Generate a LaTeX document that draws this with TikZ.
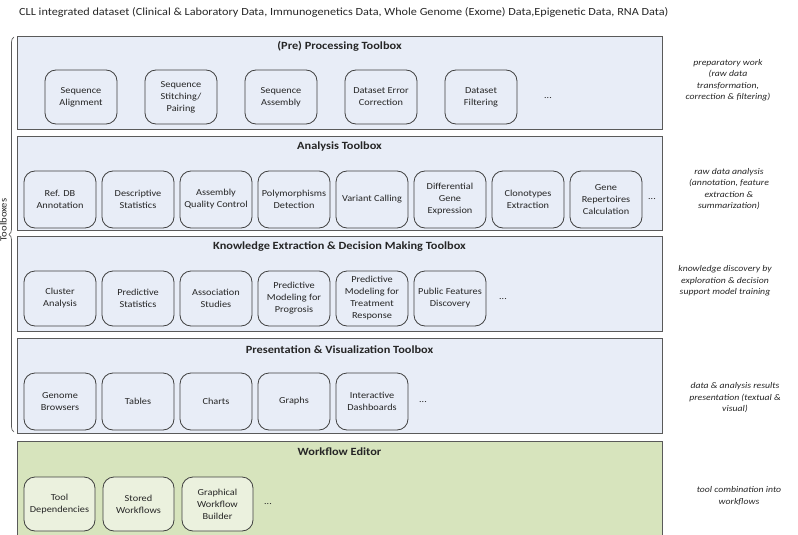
\documentclass[tikz,border=0pt]{standalone}
\usepackage{fontspec}
\setmainfont{Carlito}[FakeStretch=1.12]
\usetikzlibrary{decorations.pathreplacing}
\definecolor{panelblue}{HTML}{E8EDF7}
\definecolor{panelgreen}{HTML}{D7E4BD}
\definecolor{toolgreen}{HTML}{EBF1DE}
\definecolor{framegray}{HTML}{5A5A5A}
\definecolor{textgray}{HTML}{262626}
\tikzset{
	panel/.style={draw=framegray, line width=1.3pt, fill=panelblue, anchor=north west,
		minimum width=645pt, inner sep=0pt},
	paneltitle/.style={font=\fontsize{11}{13}\selectfont\bfseries, text=textgray},
	tool/.style={draw=black!75, line width=0.8pt, rounded corners=11pt, align=center,
		minimum width=72pt, inner sep=1pt, text=textgray,
		font=\fontsize{9.2}{12}\selectfont},
	dots/.style={font=\fontsize{9}{11}\selectfont, text=textgray},
	sidenote/.style={align=center, text=textgray, font=\fontsize{8.7}{11.5}\selectfont\itshape}
}
\begin{document}
\begin{tikzpicture}[x=1pt,y=-1pt]
	\useasboundingbox (0,0) rectangle (798,535);
	% data heading
	\node[anchor=west, inner sep=0pt, text=textgray, font=\fontsize{10.9}{13}\selectfont] (dataset) at (19,12)
		{CLL integrated dataset (Clinical \& Laboratory Data, Immunogenetics Data, Whole Genome (Exome) Data,Epigenetic Data, RNA Data)};
	% toolbox panels
	\node[panel, minimum height=93pt] (prep) at (17,36) {};
	\node[panel, minimum height=94pt] (analysis) at (17,136) {};
	\node[panel, minimum height=95pt] (knowledge) at (17,236) {};
	\node[panel, minimum height=95pt] (present) at (17,338) {};
	\node[panel, fill=panelgreen, minimum height=110pt] (workflow) at (17,441) {};
	\node[paneltitle] (preptitle) at (339.5,46) {(Pre) Processing Toolbox};
	\node[paneltitle] (analysistitle) at (339.5,147) {Analysis Toolbox};
	\node[paneltitle] (knowledgetitle) at (339.5,247) {Knowledge Extraction \& Decision Making Toolbox};
	\node[paneltitle] (presenttitle) at (339.5,350) {Presentation \& Visualization Toolbox};
	\node[paneltitle] (workflowtitle) at (339.5,452) {Workflow Editor};
	% (pre) processing tools
	\foreach \nm/\txt [count=\i from 0] in {seqalign/{Sequence\\Alignment}, seqstitch/{Sequence\\Stitching/\\Pairing},
		seqassembly/{Sequence\\Assembly}, errcorr/{Dataset Error\\Correction}, filtering/{Dataset\\Filtering}}
	\node[tool, minimum height=54pt] (\nm) at ({81+100*\i},97) {\txt};
	\node[dots] (prepdots) at (548,98) {...};
	% analysis tools
	\foreach \nm/\txt [count=\i from 0] in {refdb/{Ref. DB\\Annotation}, descstat/{Descriptive\\Statistics},
		assemblyqc/{Assembly\\Quality Control}, polymorph/{Polymorphisms\\Detection}, varcall/{Variant Calling},
		diffexpr/{Differential\\Gene\\Expression}, clonotypes/{Clonotypes\\Extraction}, generep/{Gene\\Repertoires\\Calculation}}
	\node[tool, minimum height=57pt] (\nm) at ({60+78*\i},199.5) {\txt};
	\node[dots] (analysisdots) at (652,199) {...};
	% knowledge extraction tools
	\foreach \nm/\txt [count=\i from 0] in {cluster/{Cluster\\Analysis}, predstat/{Predictive\\Statistics},
		association/{Association\\Studies}, prognosis/{Predictive\\Modeling for\\Progrosis},
		treatment/{Predictive\\Modeling for\\Treatment\\Response}, publicfeat/{Public Features\\Discovery}}
	\node[tool, minimum height=55pt] (\nm) at ({60+78*\i},298.5) {\txt};
	\node[dots] (knowledgedots) at (503,299) {...};
	% presentation tools
	\foreach \nm/\txt [count=\i from 0] in {browsers/{Genome\\Browsers}, tables/{Tables}, charts/{Charts},
		graphs/{Graphs}, dashboards/{Interactive\\Dashboards}}
	\node[tool, minimum height=57pt] (\nm) at ({60+78*\i},401.5) {\txt};
	\node[dots] (presentdots) at (423,402) {...};
	% workflow editor tools
	\foreach \nm/\txt [count=\i from 0] in {tooldeps/{Tool\\Dependencies}, stored/{Stored\\Workflows},
		builder/{Graphical\\Workflow\\Builder}}
	\node[tool, fill=toolgreen, minimum width=71pt, minimum height=54pt] (\nm) at ({59.5+79*\i},504) {\txt};
	\node[dots] (workflowdots) at (268,504) {...};
	% toolboxes brace
	\coordinate (bracelow) at (14,432);
	\coordinate (bracehigh) at (14,37);
	\draw[framegray, line width=0.7pt, decorate, decoration={brace, amplitude=5pt}] (bracelow) -- (bracehigh);
	\node[rotate=90, anchor=base, inner sep=0pt, text=textgray, font=\fontsize{9.5}{11}\selectfont] (toolboxes) at (6.5,220) {Toolboxes};
	% side notes
	\node[sidenote] (prepnote) at (728,80) {preparatory work\\(raw data\\transformation,\\correction \& filtering)};
	\node[sidenote] (analysisnote) at (729,189) {raw data analysis\\(annotation, feature\\extraction \&\\summarization)};
	\node[sidenote] (knowledgenote) at (725,281) {knowledge discovery by\\exploration \& decision\\support model training};
	\node[sidenote] (presentnote) at (735,398) {data \& analysis results\\presentation (textual \&\\visual)};
	\node[sidenote] (workflownote) at (739,496) {tool combination into\\workflows};
\end{tikzpicture}
\end{document}
